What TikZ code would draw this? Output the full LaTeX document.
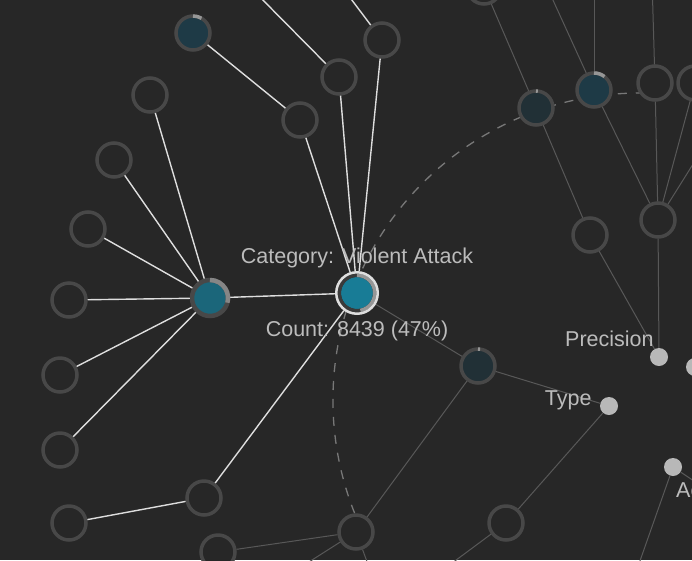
\documentclass[tikz,border=0pt]{standalone}
\usepackage{fontspec}
\setmainfont{Liberation Sans}
\usetikzlibrary{positioning,calc}
\definecolor{NetBack}{RGB}{39,39,39}
\definecolor{NetRing}{RGB}{72,72,72}
\definecolor{NetArc}{RGB}{150,150,150}
\definecolor{EdgeWhite}{RGB}{222,222,222}
\definecolor{EdgeGray}{RGB}{88,88,88}
\definecolor{OrbitGray}{RGB}{120,120,120}
\definecolor{HubTeal}{RGB}{27,102,122}
\definecolor{VioTeal}{RGB}{24,124,150}
\definecolor{DeepTeal}{RGB}{30,58,70}
\definecolor{DuskTeal}{RGB}{33,48,54}
\definecolor{DotGray}{RGB}{184,184,184}
\definecolor{LabelGray}{RGB}{188,188,188}
\newcommand\ringarc[4]{\draw[#4] (#1) ++(90:#2) arc[start angle=90,end angle=#3,radius=#2];}

\begin{document}
\begin{tikzpicture}[x=1pt,y=-1pt,
	leaf/.style={circle,draw=NetRing,line width=3.5pt,fill=NetBack,minimum size=34pt,inner sep=0pt},
	deep/.style={leaf,fill=DeepTeal},
	dusk/.style={leaf,fill=DuskTeal},
	dot/.style={circle,fill=DotGray,minimum size=18pt,inner sep=0pt},
	lbl/.style={text=LabelGray,inner sep=0pt,font=\fontsize{21.5}{24}\selectfont},
	bright/.style={EdgeWhite,line width=1.4pt},
	dim/.style={EdgeGray,line width=1pt},
	orbit/.style={OrbitGray,line width=1.3pt,dash pattern=on 9pt off 9pt}
	]
	
	\useasboundingbox (0,0) rectangle (692,560);
	\fill[NetBack] (0,0) rectangle (692,560);
	\clip (0,0) rectangle (692,560);
	
	% dashed orbit behind the nodes
	\coordinate (orbitc) at (640,400);
	\draw[orbit] (orbitc) ++(205:307pt) arc[start angle=205,end angle=85,radius=307pt];
	
	% selected category and its hub
	\node[circle,fill=VioTeal,minimum size=32pt,inner sep=0pt,outer sep=6pt] (vio) at (357,293) {};
	\node[circle,fill=HubTeal,draw=NetRing,line width=4.5pt,minimum size=36pt,inner sep=0pt] (hub) at (210,298) {};
	
	% hollow leaves
	\foreach \n/\p in {l1/{(150,95)},l2/{(114,160)},l3/{(88,229)},l4/{(69,300)},l5/{(60,375)},l6/{(60,450)},
		u1/{(300,120)},u2/{(339,77)},u3/{(382,40)},b1/{(204,498)},b2/{(69,523)},
		s1/{(356,532)},s2/{(218,552)},s3/{(506,523)},
		r4/{(655,83)},r5/{(695,83)},r6/{(658,220)},r7/{(590,235)},r8/{(484,-13)}}
		\node[leaf] (\n) at \p {};
	
	% filled leaves
	\node[deep] (ut) at (193,33) {};
	\node[deep] (r3) at (594,90) {};
	\node[dusk] (r2) at (536,108) {};
	\node[dusk] (r1) at (478,366) {};
	
	% attribute dots
	\node[dot] (prec) at (659,357) {};
	\node[dot] (type) at (609,406) {};
	\node[dot] (acc) at (673,467) {};
	\node[dot] (side) at (695,367) {};
	
	% ends outside the frame
	\coordinate (o1) at (250,-13);
	\coordinate (o2) at (342,-13);
	\coordinate (o3) at (594,-20);
	\coordinate (o4) at (547,-13);
	\coordinate (o5) at (652,-20);
	\coordinate (o6) at (700,153);
	\coordinate (o7) at (290,574);
	\coordinate (o8) at (372,575);
	\coordinate (o9) at (440,572);
	\coordinate (o10) at (635,575);
	\coordinate (o11) at (700,485);
	
	% bright links
	\foreach \n in {l1,l2,l3,l4,l5,l6,vio}
		\draw[bright] (hub) -- (\n);
	\foreach \n in {u1,u2,u3,b1}
		\draw[bright] (vio) -- (\n);
	\draw[bright] (ut) -- (u1);
	\draw[bright] (u2) -- (o1);
	\draw[bright] (u3) -- (o2);
	\draw[bright] (b1) -- (b2);
	
	% dim links
	\draw[dim] (vio) -- (r1);
	\draw[dim] (r1) -- (type);
	\draw[dim] (r1) -- (s1);
	\draw[dim] (s1) -- (s2);
	\draw[dim] (s1) -- (o7);
	\draw[dim] (s1) -- (o8);
	\draw[dim] (s3) -- (type);
	\draw[dim] (s3) -- (o9);
	\draw[dim] (acc) -- (o10);
	\draw[dim] (acc) -- (o11);
	\draw[dim] (r8) -- (r2);
	\draw[dim] (r2) -- (r7);
	\draw[dim] (r7) -- (prec);
	\draw[dim] (r6) -- (prec);
	\draw[dim] (r3) -- (o3);
	\draw[dim] (r3) -- (o4);
	\draw[dim] (r3) -- (r6);
	\draw[dim] (r4) -- (o5);
	\draw[dim] (r4) -- (r6);
	\draw[dim] (r5) -- (r6);
	\draw[dim] (o6) -- (r6);
	
	% rings and share arcs
	\draw[NetRing!80!black,line width=3.5pt] (vio) circle[radius=17.75pt];
	\ringarc{vio}{17.75pt}{-79}{NetArc,line width=3.5pt}
	\draw[EdgeWhite,line width=2.5pt] (vio) circle[radius=20.75pt];
	\ringarc{hub}{18pt}{-15}{NetArc!80!NetRing,line width=4.5pt}
	\ringarc{ut}{17pt}{60}{NetArc,line width=3.5pt}
	\ringarc{r3}{17pt}{52}{NetArc,line width=3.5pt}
	\ringarc{r2}{17pt}{84}{NetArc,line width=3.5pt}
	\ringarc{r1}{17pt}{83}{NetArc,line width=3.5pt}
	
	% labels
	\node[lbl,above=3pt of vio] (cat) {Category: Violent Attack};
	\node[lbl,below=6pt of vio] (cnt) {Count: 8439 (47\%)};
	\node[lbl,anchor=base east] (precl) at ($(prec.west)+(4,-11)$) {Precision};
	\node[lbl,anchor=base east] (typel) at ($(type.west)+(-8,-1)$) {Type};
	\node[lbl,anchor=base west] (accl) at ($(acc)+(3,30)$) {Ac};
	
\end{tikzpicture}
\end{document}
